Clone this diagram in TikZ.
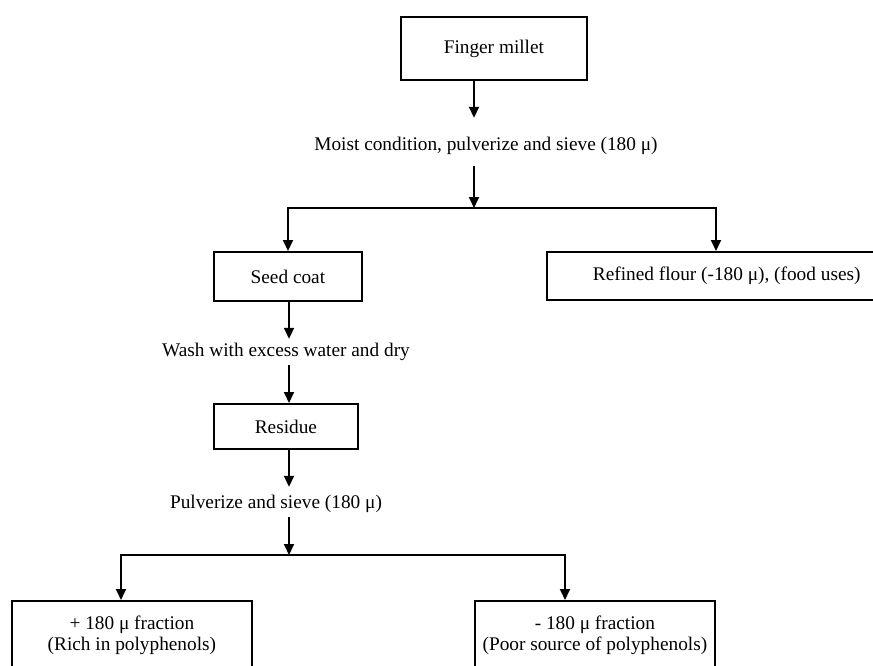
\documentclass[tikz,border=0pt]{standalone}
\usepackage{fontspec}
\setmainfont{Liberation Serif}
\usetikzlibrary{arrows.meta,positioning,calc}

\begin{document}
\begin{tikzpicture}[x=1pt, y=-1pt,
  every node/.style={font=\fontsize{19.3}{21}\selectfont},
  box/.style={draw, line width=1.8pt, inner sep=0pt},
  stage/.style={inner sep=0pt, text height=13pt, text depth=4pt, anchor=base},
  flow/.style={line width=1.8pt, -{Triangle[length=11pt, width=10pt]}},
  link/.style={line width=1.8pt}]

\useasboundingbox (0,0) rectangle (873,666);
\clip (0,0) rectangle (873,666);

% ======================================================================
% JUNCTION POINTS (1 unit = 1 px of the page)
% ======================================================================
\coordinate (top)  at (474,208);
\coordinate (topL) at (288,208);
\coordinate (topR) at (716,208);
\coordinate (low)  at (289,555);
\coordinate (lowL) at (121,555);
\coordinate (lowR) at (565,555);

% ======================================================================
% TOP : GRAIN -> MILLING
% ======================================================================
\node[box, anchor=north west, minimum width=186pt, minimum height=63pt] (millet) at (400,16)
  {Finger millet};
\node[stage] (moist) at (486,151) {Moist condition, pulverize and sieve (180 μ)};

% ---- two streams ----
\node[box, anchor=north west, minimum width=148pt, minimum height=49pt] (seed) at (213,251)
  {Seed coat};
\node[box, anchor=north west, minimum height=48pt, inner xsep=46pt] (flour) at (546,251)
  {Refined flour (-180 μ), (food uses)};

\draw[flow] (millet.south -| top) -- ($(moist.north -| top)+(0,-20)$);
\draw[flow] ($(moist.south -| top)+(0,11)$) -- (top);
\draw[flow] (topR) -- (topL) -- (seed.north -| topL);
\draw[flow] (topL) -- (topR) -- (flour.north -| topR);

% ======================================================================
% MIDDLE : SEED COAT TREATMENT
% ======================================================================
\node[stage] (wash) at (286,356) {Wash with excess water and dry};
\node[box, anchor=north west, minimum width=144pt, minimum height=45pt] (residue) at (213,403)
  {Residue};
\node[stage] (sieve) at (276,508) {Pulverize and sieve (180 μ)};

\draw[flow] (seed.south -| low) -- ($(wash.north -| low)+(0,-4)$);
\draw[flow] ($(wash.south -| low)+(0,5)$) -- (residue.north -| low);
\draw[flow] (residue.south -| low) -- ($(sieve.north -| low)+(0,-8)$);
\draw[flow] ($(sieve.south -| low)+(0,5)$) -- (low);

% ======================================================================
% BOTTOM : FRACTIONS (boxes run past the lower edge)
% ======================================================================
\node[box, anchor=north west, minimum width=240pt, align=center, inner ysep=15pt,
      text depth=60pt] (coarse) at (11,600)
  {+ 180 μ fraction\\(Rich in polyphenols)};
\node[box, anchor=north west, minimum width=240pt, align=center, inner ysep=15pt,
      text depth=60pt] (fine) at (474,600)
  {- 180 μ fraction\\(Poor source of polyphenols)};

\draw[flow] (lowR) -- (lowL) -- (coarse.north -| lowL);
\draw[flow] (lowL) -- (lowR) -- (fine.north -| lowR);

\end{tikzpicture}
\end{document}
